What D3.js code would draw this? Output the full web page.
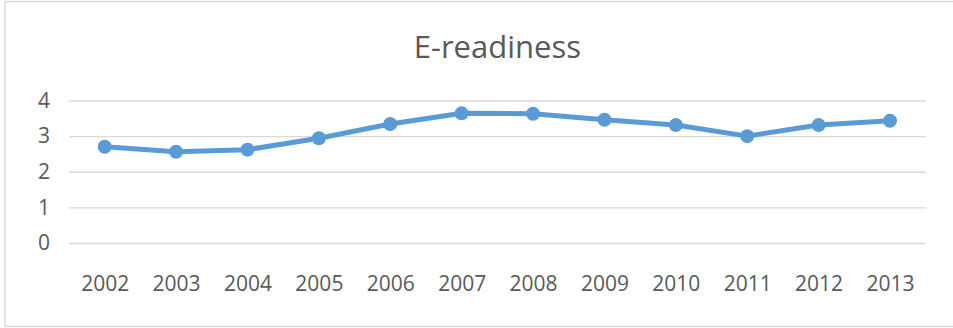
<!DOCTYPE html>
<html><head><meta charset="utf-8">
<script src="https://cdn.jsdelivr.net/npm/d3@7"></script>
<style>html,body{margin:0;padding:0;background:#fff;}svg{display:block;}</style>
</head><body>
<script>
const title = "E-readiness";
const years = ["2002","2003","2004","2005","2006","2007","2008","2009","2010","2011","2012","2013"];
const values = [2.70, 2.56, 2.62, 2.94, 3.34, 3.64, 3.63, 3.46, 3.31, 3.00, 3.31, 3.43];
const yTicks = [0, 1, 2, 3, 4];

(function () {
const W = 953, H = 328;
const svg = d3.select("body").append("svg").attr("width", W).attr("height", H);
svg.append("rect").attr("x", 5).attr("y", 1.5).attr("width", 960).attr("height", 325)
  .attr("fill", "#fff").attr("stroke", "#d9d9d9").attr("stroke-width", 1.5);

const pL = 69, pR = 925.7, pT = 100.5, pB = 243;
const x = d3.scalePoint().domain(years).range([pL, pR]).padding(0.5);
const y = d3.scaleLinear().domain([0, 4]).range([pB, pT]);
const font = "'Open Sans', sans-serif";

svg.append("text").attr("x", (pL + pR) / 2).attr("y", 58)
  .attr("text-anchor", "middle").attr("font-family", font).attr("font-size", 31)
  .attr("fill", "#595959").text(title);

const yAxis = svg.append("g").attr("transform", `translate(${pL},0)`)
  .call(d3.axisLeft(y).tickValues(yTicks).tickSize(-(pR - pL)).tickPadding(19).tickFormat(d3.format("d")));
yAxis.select(".domain").remove();
yAxis.selectAll("line").attr("stroke", "#d9d9d9").attr("stroke-width", 1.4);
yAxis.selectAll("text").attr("font-family", font).attr("font-size", 21).attr("fill", "#595959");

const xAxis = svg.append("g").attr("transform", `translate(0,${pB})`)
  .call(d3.axisBottom(x).tickSize(0).tickPadding(33));
xAxis.select(".domain").remove();
xAxis.selectAll("text").attr("font-family", font).attr("font-size", 21).attr("fill", "#595959");

const line = d3.line().x((d, i) => x(years[i])).y(d => y(d));
svg.append("path").datum(values).attr("d", line).attr("fill", "none")
  .attr("stroke", "#5b9bd5").attr("stroke-width", 5).attr("stroke-linejoin", "round");
svg.selectAll("circle.pt").data(values).join("circle").attr("class", "pt")
  .attr("cx", (d, i) => x(years[i])).attr("cy", d => y(d)).attr("r", 7).attr("fill", "#5b9bd5");
})();
</script>
</body></html>
